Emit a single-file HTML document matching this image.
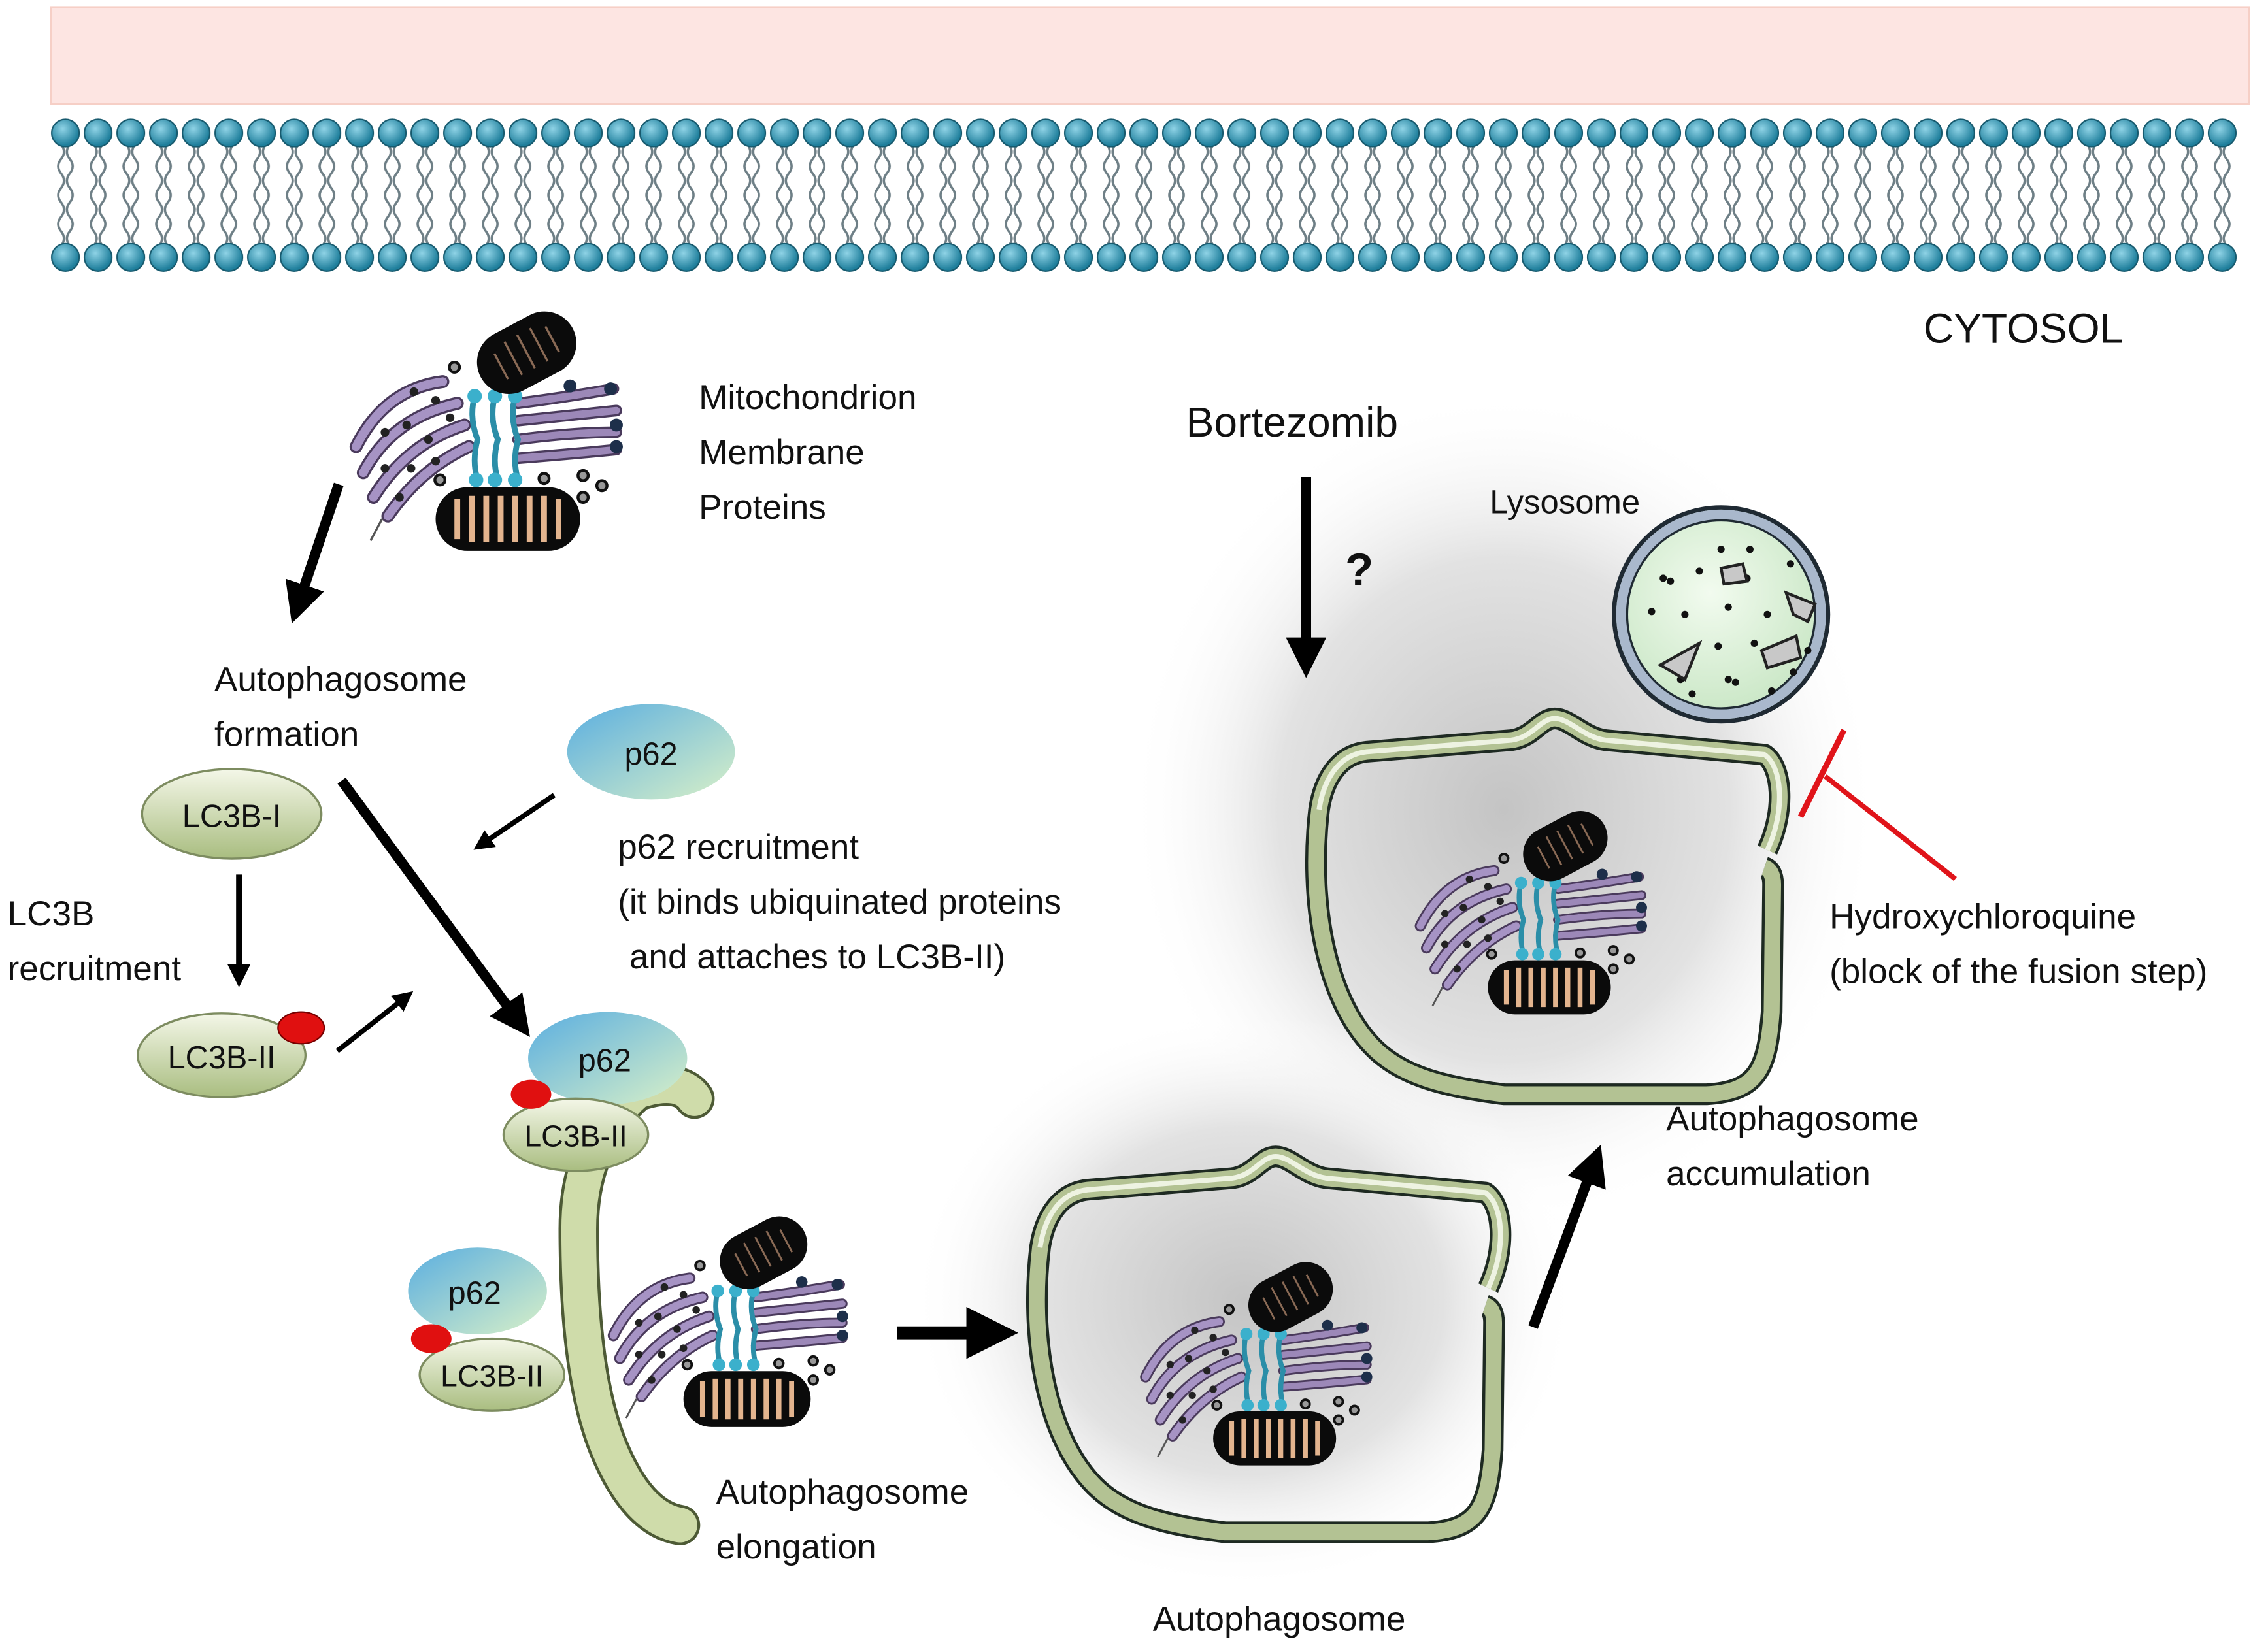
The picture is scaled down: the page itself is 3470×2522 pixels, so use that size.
<!DOCTYPE html>
<html><head><meta charset="utf-8">
<style>
html,body{margin:0;padding:0;background:#fff;}
svg{display:block;}
text{font-family:"Liberation Sans",sans-serif;fill:#111;}
</style></head>
<body>
<svg width="3470" height="2522" viewBox="0 0 1568 1140" xmlns="http://www.w3.org/2000/svg">
<defs>
<linearGradient id="gG" x1="0" y1="0" x2="0" y2="1"><stop offset="0" stop-color="#f4f7e8"/><stop offset="1" stop-color="#a9bd80"/></linearGradient>
<linearGradient id="bG" x1="0" y1="0" x2="1" y2="1"><stop offset="0" stop-color="#5aaee0"/><stop offset="1" stop-color="#d8f0c8"/></linearGradient>
<radialGradient id="sh" cx="0.5" cy="0.5" r="0.5"><stop offset="0" stop-color="#c4c4c4"/><stop offset="0.6" stop-color="#e2e2e2"/><stop offset="1" stop-color="#fff" stop-opacity="0"/></radialGradient>
<radialGradient id="lys" cx="0.45" cy="0.4" r="0.6"><stop offset="0" stop-color="#f2fbef"/><stop offset="1" stop-color="#c8e6c4"/></radialGradient>
<radialGradient id="head" cx="0.4" cy="0.35" r="0.6"><stop offset="0" stop-color="#8fd3e6"/><stop offset="1" stop-color="#1f7f9c"/></radialGradient>
<pattern id="memP" patternUnits="userSpaceOnUse" x="33.7" y="0" width="22.6" height="200">
 <path d="M8.3,100 q4,5 0,10 q-4,5 0,10 q4,5 0,10 q-4,5 0,10 q4,5 0,10 q-4,5 0,10 q4,5 0,10" fill="none" stroke="#6e7f86" stroke-width="1.6"/>
 <path d="M14.3,100 q-4,5 0,10 q4,5 0,10 q-4,5 0,10 q4,5 0,10 q-4,5 0,10 q4,5 0,10 q-4,5 0,10" fill="none" stroke="#6e7f86" stroke-width="1.6"/>
 <circle cx="11.3" cy="92" r="9.5" fill="url(#head)" stroke="#175a6e" stroke-width="1"/>
 <circle cx="11.3" cy="178" r="9.5" fill="url(#head)" stroke="#175a6e" stroke-width="1"/>
</pattern>
<marker id="ah" markerWidth="4" markerHeight="4" refX="2" refY="2" orient="auto" markerUnits="strokeWidth"><path d="M0,0 L4,2 L0,4 z" fill="#000"/></marker>
<g id="mito">
 <g fill="none" stroke="#4a3a5c" stroke-width="9" stroke-linecap="round">
  <path d="M-100,10 Q-80,-30 -40,-35"/><path d="M-95,28 Q-75,-10 -30,-20"/><path d="M-88,45 Q-65,8 -25,-5"/><path d="M-78,58 Q-55,25 -22,10"/>
 </g>
 <g fill="none" stroke="#a693c4" stroke-width="6" stroke-linecap="round">
  <path d="M-100,10 Q-80,-30 -40,-35"/><path d="M-95,28 Q-75,-10 -30,-20"/><path d="M-88,45 Q-65,8 -25,-5"/><path d="M-78,58 Q-55,25 -22,10"/>
 </g>
 <g fill="#222"><circle cx="-60" cy="-28" r="3"/><circle cx="-45" cy="-22" r="3"/><circle cx="-80" cy="0" r="3"/><circle cx="-65" cy="-5" r="3"/><circle cx="-50" cy="5" r="3"/><circle cx="-80" cy="25" r="3"/><circle cx="-62" cy="25" r="3"/><circle cx="-45" cy="20" r="3"/><circle cx="-70" cy="45" r="3"/><circle cx="-35" cy="-10" r="3"/></g>
 <path d="M-82,60 L-90,75" stroke="#555" stroke-width="1.5"/>
 <g fill="none" stroke="#4a3a5c" stroke-width="8" stroke-linecap="round">
  <path d="M12,-20 Q50,-25 78,-30"/><path d="M12,-8 Q50,-12 80,-15"/><path d="M12,5 Q50,0 80,0"/><path d="M12,18 Q50,15 80,12"/>
 </g>
 <g fill="none" stroke="#9c88b8" stroke-width="5" stroke-linecap="round">
  <path d="M12,-20 Q50,-25 78,-30"/><path d="M12,-8 Q50,-12 80,-15"/><path d="M12,5 Q50,0 80,0"/><path d="M12,18 Q50,15 80,12"/>
 </g>
 <g stroke="#2b8ea8" stroke-width="4" fill="none">
  <path d="M-18,-25 q-4,15 2,30 q-4,15 0,28"/><path d="M-4,-25 q-4,15 2,30 q-4,15 0,28"/><path d="M10,-25 q-4,15 2,30 q-4,15 0,28"/>
 </g>
 <g fill="#3bb0cc"><circle cx="-18" cy="-25" r="5"/><circle cx="-4" cy="-25" r="5"/><circle cx="10" cy="-25" r="5"/><circle cx="-17" cy="33" r="5"/><circle cx="-4" cy="33" r="5"/><circle cx="10" cy="33" r="5"/></g>
 <g transform="translate(18,-55) rotate(-28)"><rect x="-36" y="-22" width="72" height="44" rx="22" fill="#0b0b0b"/>
  <g stroke="#8a6a55" stroke-width="1.5"><path d="M-20,-10 v20 M-10,-14 v26 M0,-14 v26 M10,-14 v26 M20,-10 v20"/></g></g>
 <rect x="-45" y="38" width="100" height="44" rx="22" fill="#0b0b0b"/>
 <g stroke="#e3b48e" stroke-width="4"><path d="M-30,46 v28 M-20,44 v32 M-10,44 v32 M0,44 v32 M10,44 v32 M20,44 v32 M30,44 v32 M40,46 v28"/></g>
 <g fill="#1d2f4a"><circle cx="48" cy="-32" r="4.5"/><circle cx="76" cy="-30" r="4.5"/><circle cx="80" cy="-5" r="4.5"/><circle cx="80" cy="10" r="4.5"/></g>
 <g fill="#999" stroke="#111" stroke-width="2"><circle cx="-32" cy="-45" r="3.5"/><circle cx="-42" cy="33" r="3.5"/><circle cx="30" cy="32" r="3.5"/><circle cx="57" cy="30" r="3.5"/><circle cx="70" cy="37" r="3.5"/><circle cx="57" cy="45" r="3.5"/></g>
</g>
<path id="pp" d="M1222,588 C1235,560 1232,530 1220,522 L1110,512 C1095,510 1085,497 1075,497 C1065,497 1060,510 1045,512 L945,520 C925,522 915,540 912,560 C905,620 915,690 950,725 C970,745 1000,752 1040,757 L1180,757 C1215,755 1222,740 1225,700 L1226,612 Q1226,602 1220,600" fill="none" stroke-linejoin="round"/>
<g id="phago">
 <use href="#pp" stroke="#1e2a22" stroke-width="15"/>
 <use href="#pp" stroke="#b3c293" stroke-width="11"/>
 <path d="M1222,588 C1235,560 1232,530 1220,522 L1110,512 C1095,510 1085,497 1075,497 C1065,497 1060,510 1045,512 L945,520 C925,522 915,540 912,560" fill="none" stroke="#eef3e2" stroke-width="3.5"/>
</g>
</defs>

<rect x="35" y="5" width="1520" height="67" fill="#fde5e2" stroke="#f6cfc6" stroke-width="1.5"/>
<rect x="33" y="80" width="1515" height="110" fill="url(#memP)"/>
<text x="1330" y="237" font-size="29">CYTOSOL</text>

<ellipse cx="1040" cy="560" rx="260" ry="290" fill="url(#sh)"/>
<ellipse cx="860" cy="900" rx="230" ry="200" fill="url(#sh)"/>

<use href="#mito" transform="translate(346,299)"/>
<text x="483" y="283" font-size="24">Mitochondrion</text>
<text x="483" y="321" font-size="24">Membrane</text>
<text x="483" y="359" font-size="24">Proteins</text>

<line x1="234" y1="335" x2="206" y2="418" stroke="#000" stroke-width="7" marker-end="url(#ah)"/>
<text x="148" y="478" font-size="24">Autophagosome</text>
<text x="148" y="516" font-size="24">formation</text>

<ellipse cx="160" cy="563" rx="62" ry="31" fill="url(#gG)" stroke="#7d8c60" stroke-width="1.5"/>
<text x="160" y="572" font-size="22" text-anchor="middle">LC3B-I</text>
<line x1="165" y1="605" x2="165" y2="675" stroke="#000" stroke-width="4" marker-end="url(#ah)"/>
<text x="5" y="640" font-size="24">LC3B</text>
<text x="5" y="678" font-size="24">recruitment</text>
<ellipse cx="153" cy="730" rx="58" ry="29" fill="url(#gG)" stroke="#7d8c60" stroke-width="1.5"/>
<text x="153" y="739" font-size="22" text-anchor="middle">LC3B-II</text>
<ellipse cx="208" cy="711" rx="16" ry="11" fill="#e01010" stroke="#700" stroke-width="1"/>
<line x1="233" y1="727" x2="280" y2="690" stroke="#000" stroke-width="3.5" marker-end="url(#ah)"/>

<ellipse cx="450" cy="520" rx="58" ry="33" fill="url(#bG)"/>
<text x="450" y="529" font-size="22" text-anchor="middle">p62</text>
<line x1="383" y1="550" x2="333" y2="584" stroke="#000" stroke-width="3.5" marker-end="url(#ah)"/>
<text x="427" y="594" font-size="24">p62 recruitment</text>
<text x="427" y="632" font-size="24">(it binds ubiquinated  proteins</text>
<text x="435" y="670" font-size="24">and attaches to LC3B-II)</text>

<line x1="236" y1="540" x2="358" y2="706" stroke="#000" stroke-width="7" marker-end="url(#ah)"/>

<path d="M480,760 Q470,745 440,755 Q400,790 400,850 Q400,950 420,1000 Q440,1050 470,1055" fill="none" stroke="#4d5a35" stroke-width="28" stroke-linecap="round"/>
<path d="M480,760 Q470,745 440,755 Q400,790 400,850 Q400,950 420,1000 Q440,1050 470,1055" fill="none" stroke="#cfdcaa" stroke-width="24" stroke-linecap="round"/>
<ellipse cx="420" cy="732" rx="55" ry="32" fill="url(#bG)"/>
<text x="418" y="741" font-size="22" text-anchor="middle">p62</text>
<ellipse cx="398" cy="785" rx="50" ry="25" fill="url(#gG)" stroke="#7d8c60" stroke-width="1.5"/>
<text x="398" y="793" font-size="21" text-anchor="middle">LC3B-II</text>
<ellipse cx="367" cy="757" rx="14" ry="10" fill="#e01010"/>
<ellipse cx="330" cy="893" rx="48" ry="30" fill="url(#bG)"/>
<text x="328" y="902" font-size="22" text-anchor="middle">p62</text>
<ellipse cx="340" cy="951" rx="50" ry="25" fill="url(#gG)" stroke="#7d8c60" stroke-width="1.5"/>
<text x="340" y="959" font-size="21" text-anchor="middle">LC3B-II</text>
<ellipse cx="298" cy="926" rx="14" ry="10" fill="#e01010"/>
<use href="#mito" transform="translate(512,915) scale(0.88)"/>
<text x="495" y="1040" font-size="24">Autophagosome</text>
<text x="495" y="1078" font-size="24">elongation</text>

<line x1="620" y1="922" x2="686" y2="922" stroke="#000" stroke-width="9" marker-end="url(#ah)"/>

<use href="#phago" transform="translate(-193,303)"/>
<use href="#mito" transform="translate(877,944) scale(0.85)"/>
<text x="797" y="1128" font-size="24">Autophagosome</text>

<line x1="1060" y1="918" x2="1102" y2="805" stroke="#000" stroke-width="7" marker-end="url(#ah)"/>
<text x="1152" y="782" font-size="24">Autophagosome</text>
<text x="1152" y="820" font-size="24">accumulation</text>

<text x="820" y="302" font-size="29">Bortezomib</text>
<line x1="903" y1="330" x2="903" y2="455" stroke="#000" stroke-width="7" marker-end="url(#ah)"/>
<text x="930" y="405" font-size="32" font-weight="bold">?</text>

<text x="1030" y="355" font-size="23">Lysosome</text>
<circle cx="1190" cy="425" r="74" fill="url(#lys)" stroke="#1f2a33" stroke-width="3"/>
<circle cx="1190" cy="425" r="69" fill="none" stroke="#a9b8cc" stroke-width="7"/>
<circle cx="1190" cy="425" r="65" fill="none" stroke="#1f2a33" stroke-width="1.5"/>
<g fill="#111">
<circle cx="1155" cy="402" r="2.5"/><circle cx="1175" cy="395" r="2.5"/><circle cx="1208" cy="400" r="2.5"/><circle cx="1142" cy="423" r="2.5"/><circle cx="1165" cy="425" r="2.5"/><circle cx="1195" cy="420" r="2.5"/><circle cx="1222" cy="425" r="2.5"/><circle cx="1213" cy="445" r="2.5"/><circle cx="1188" cy="447" r="2.5"/><circle cx="1170" cy="480" r="2.5"/><circle cx="1200" cy="472" r="2.5"/><circle cx="1225" cy="478" r="2.5"/><circle cx="1250" cy="450" r="2.5"/><circle cx="1245" cy="420" r="2.5"/><circle cx="1150" cy="400" r="2.5"/><circle cx="1190" cy="380" r="2.5"/><circle cx="1210" cy="380" r="2.5"/><circle cx="1238" cy="390" r="2.5"/><circle cx="1195" cy="470" r="2.5"/><circle cx="1240" cy="465" r="2.5"/><circle cx="1162" cy="470" r="2.5"/></g>
<g fill="#c8c8c8" stroke="#222" stroke-width="2">
<path d="M1148,460 L1175,445 L1165,470 Z"/><path d="M1190,393 L1205,390 L1208,402 L1192,404 Z"/><path d="M1235,410 L1255,418 L1250,430 L1240,425 Z"/><path d="M1218,450 L1242,440 L1245,455 L1222,462 Z"/></g>

<use href="#phago"/>
<use href="#mito" transform="translate(1067,632) scale(0.85)"/>

<line x1="1352" y1="608" x2="1262" y2="537" stroke="#e0141a" stroke-width="3.5"/>
<line x1="1275" y1="505" x2="1245" y2="565" stroke="#e0141a" stroke-width="4"/>
<text x="1265" y="642" font-size="24">Hydroxychloroquine</text>
<text x="1265" y="680" font-size="24">(block of the fusion step)</text>
</svg>
</body></html>
